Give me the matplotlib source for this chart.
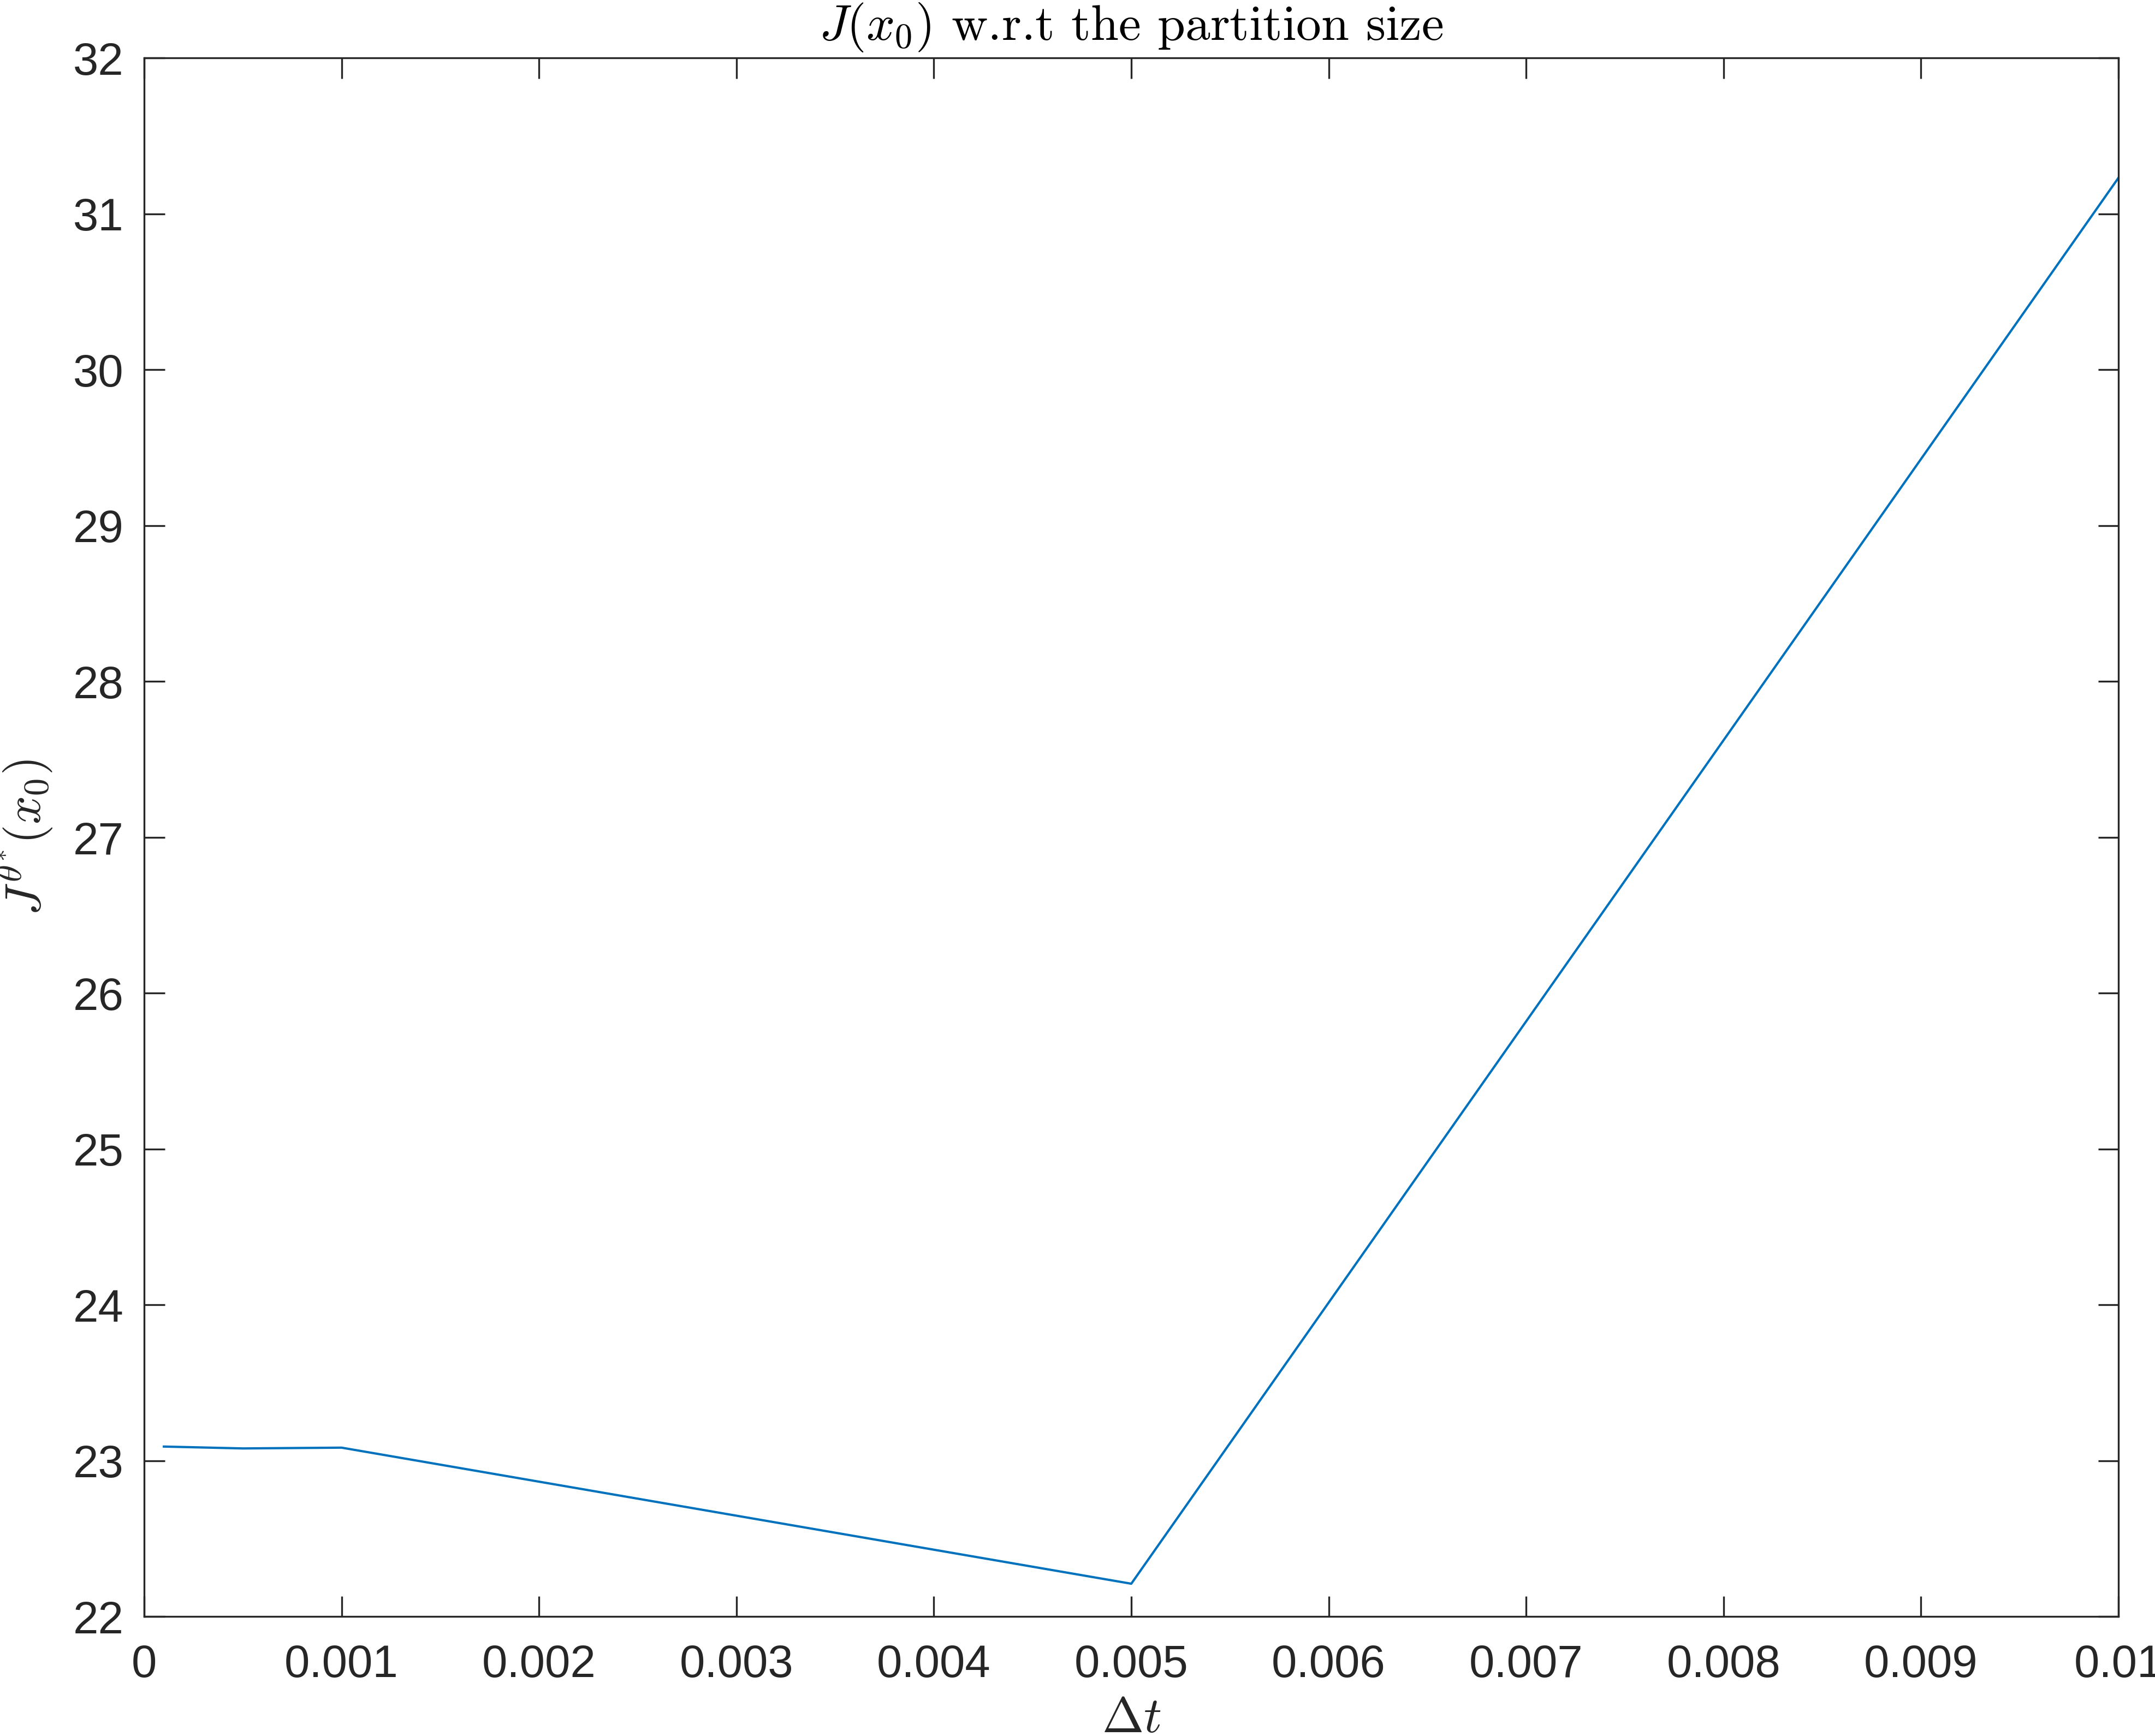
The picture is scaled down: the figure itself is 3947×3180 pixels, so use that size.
import numpy as np
import matplotlib
matplotlib.use("Agg")
import matplotlib.pyplot as plt
from matplotlib.ticker import FixedLocator, FixedFormatter

# donnees
dt = [0.0001, 0.0005, 0.001, 0.005, 0.01]
J = [23.09, 23.078, 23.083, 22.21, 31.23]

xticks = [0, 0.001, 0.002, 0.003, 0.004, 0.005, 0.006, 0.007, 0.008, 0.009, 0.01]
xlabels = ["0", "0.001", "0.002", "0.003", "0.004", "0.005",
           "0.006", "0.007", "0.008", "0.009", "0.01"]
yticks = [22, 23, 24, 25, 26, 27, 28, 29, 30, 31, 32]

plt.rcParams['font.family'] = ['Liberation Sans', 'DejaVu Sans']
plt.rcParams['mathtext.fontset'] = 'cm'
plt.rcParams['axes.formatter.use_mathtext'] = False

axcol = '#262626'
fig = plt.figure(figsize=(3947 / 300, 3180 / 300), dpi=300)
ax = fig.add_axes([264 / 3947, 1 - 2961 / 3180,
                   (3880 - 264) / 3947, (2961 - 106) / 3180])

ax.plot(dt, J, color='#0072BD', lw=1.0)

ax.set_xlim(0, 0.01)
ax.set_ylim(22, 32)
ax.xaxis.set_major_locator(FixedLocator(xticks))
ax.xaxis.set_major_formatter(FixedFormatter(xlabels))
ax.set_yticks(yticks)
ax.set_yticklabels([str(v) for v in yticks])

ax.tick_params(direction='in', length=9, width=0.8, colors=axcol,
               labelsize=20, top=True, right=True)
ax.tick_params(axis='x', pad=12)
ax.tick_params(axis='y', pad=9)
for s in ax.spines.values():
    s.set_color(axcol)
    s.set_linewidth(0.8)

ax.set_title(r"$J(x_0)$ w.r.t the partition size", family='cmr10',
             fontsize=22, color='black', pad=8)
ax.set_xlabel(r"$\Delta t$", fontsize=22, color=axcol, labelpad=4)
ax.set_ylabel(r"$J^{\theta^{\ast}}(x_0)$", fontsize=22, color=axcol, labelpad=8)

fig.savefig("out.png", dpi=300, facecolor='white')
